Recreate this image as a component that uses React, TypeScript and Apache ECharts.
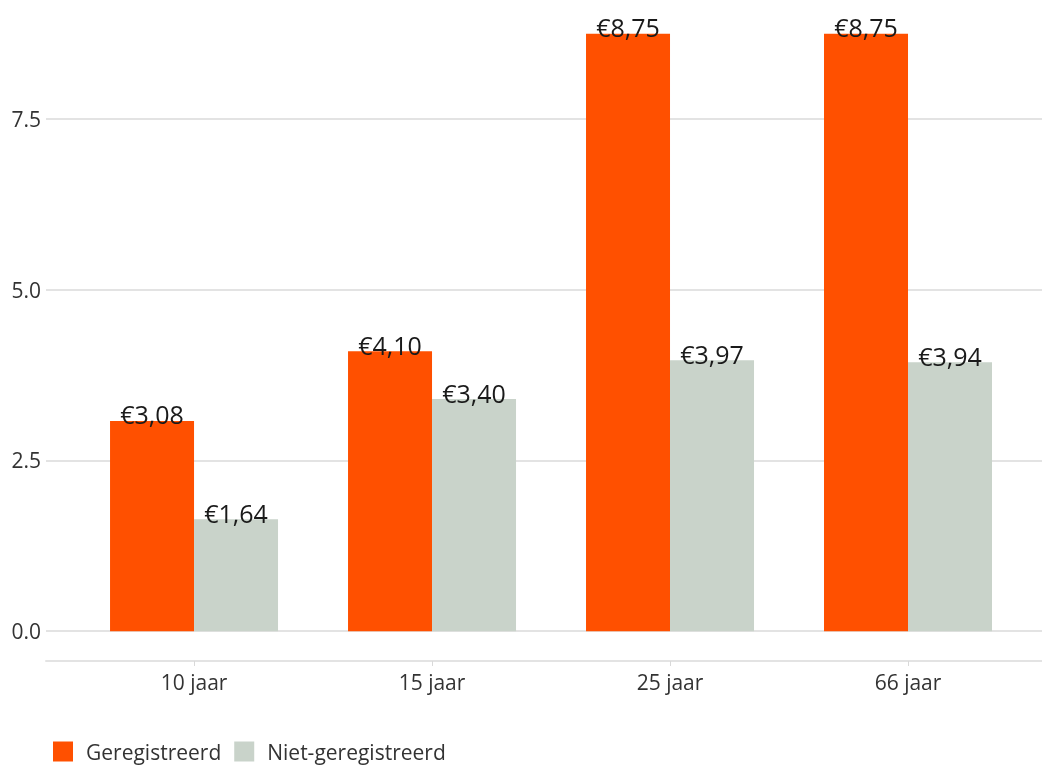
import React, { useEffect, useRef } from "react";
import * as echarts from "echarts";

const categories = ["10 jaar", "15 jaar", "25 jaar", "66 jaar"];
const geregistreerd = [3.08, 4.1, 8.75, 8.75];
const nietGeregistreerd = [1.64, 3.4, 3.97, 3.94];
const yTicks = [0, 2.5, 5, 7.5];
const seriesNames = ["Geregistreerd", "Niet-geregistreerd"];

const FONT = "Open Sans";

function euro(v: number): string {
  return "€" + v.toFixed(2).replace(".", ",");
}

export default function App() {
  const ref = useRef<HTMLDivElement>(null);
  useEffect(() => {
    if (!ref.current) return;
    const chart = echarts.init(ref.current, undefined, { renderer: "svg" });
    const catIdx = categories.map((_, i) => i + 1);
    const labelCfg = {
      show: true,
      position: "top" as const,
      distance: -6,
      fontFamily: FONT,
      fontSize: 25,
      color: "#1a1a1a",
      formatter: (p: any) => euro(p.value[1]),
    };
    chart.setOption({
      animation: false,
      textStyle: { fontFamily: FONT },
      grid: { left: 46, right: 0, top: 4, bottom: 104, containLabel: false },
      legend: {
        left: 53,
        top: 741,
        padding: 0,
        icon: "rect",
        itemWidth: 20,
        itemHeight: 20,
        itemGap: 13,
        textStyle: { fontFamily: FONT, fontSize: 21, color: "#333", padding: [0, 0, 0, 8] },
        data: seriesNames,
      },
      xAxis: {
        type: "value",
        min: 0.378,
        max: 4.563,
        splitLine: { show: false },
        axisLine: { show: true, onZero: false, lineStyle: { color: "#e3e3e3", width: 2 } },
        axisTick: {
          show: true,
          customValues: catIdx,
          length: 5,
          lineStyle: { color: "#d9d9d9", width: 1 },
        },
        axisLabel: {
          customValues: catIdx,
          fontFamily: FONT,
          fontSize: 21,
          color: "#333",
          margin: 10,
          formatter: (v: number) => categories[Math.round(v) - 1] ?? "",
        },
      },
      yAxis: {
        type: "value",
        min: -0.4375,
        max: 9.1875,
        axisLine: { show: false },
        axisTick: { show: false, customValues: yTicks },
        splitLine: { show: true, lineStyle: { color: "#e3e3e3", width: 2 } },
        axisLabel: {
          customValues: yTicks,
          fontFamily: FONT,
          fontSize: 21,
          color: "#333",
          margin: 5,
          formatter: (v: number) => v.toFixed(1),
        },
      },
      series: [
        {
          name: seriesNames[0],
          type: "bar",
          barWidth: 84,
          barGap: "0%",
          itemStyle: { color: "#ff5000" },
          label: labelCfg,
          data: catIdx.map((x, i) => [x, geregistreerd[i]]),
        },
        {
          name: seriesNames[1],
          type: "bar",
          barWidth: 84,
          barGap: "0%",
          itemStyle: { color: "#c9d3ca" },
          label: labelCfg,
          data: catIdx.map((x, i) => [x, nietGeregistreerd[i]]),
        },
      ],
    });
    return () => chart.dispose();
  }, []);
  return (
    <div
      ref={ref}
      style={{ position: "fixed", left: 0, top: 0, width: 1042, height: 765 }}
    />
  );
}
